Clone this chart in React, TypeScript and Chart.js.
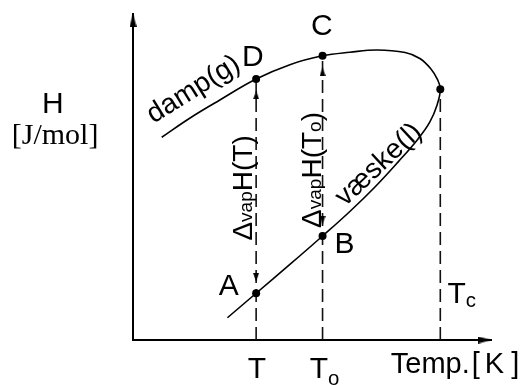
import { useEffect, useRef } from "react";
import { Chart, registerables } from "chart.js";

Chart.register(...registerables);

const SANS = "'Liberation Sans', Arial, Helvetica, sans-serif";
const SERIF = "'Liberation Serif', 'Times New Roman', serif";

// Marked temperatures (schematic units, the temperature axis runs 0–100)
const tempT = 34.3;
const tempTo = 52.8;
const tempTc = 85.6;

// Enthalpy of the vapour (D at T, C at To) and of the liquid (A at T, B at To)
const vapourAt = [79.8, 86.9];
const liquidAt = [14.3, 31.8];
const criticalH = 76.7;

// Vapour branch, from low temperature up to the critical point
const vapourTemp = [8.0, 15.9, 24.2, 34.3, 43.7, 52.8, 60.4, 68.0, 75.8, 79.9, 83.0, 84.8, 85.6];
const vapourEnth = [62.0, 67.9, 73.4, 79.8, 84.2, 86.9, 88.0, 88.7, 87.9, 86.1, 82.9, 79.7, 76.7];

// Liquid branch, from the critical point down to low temperature
const liquidTemp = [85.6, 84.7, 82.7, 79.4, 73.8, 67.4, 60.4, 52.8, 43.7, 34.3, 26.3];
const liquidEnth = [76.7, 71.9, 66.7, 61.5, 54.4, 46.8, 39.3, 31.8, 23.1, 14.3, 6.8];

// Gap between a dashed double arrow's tip and the dot it points at (enthalpy units)
const ARROW_GAP = 3.5;

type Run = { text: string; sub?: boolean; dx?: number };
type Label = {
  runs: Run[];
  x: number;
  y: number;
  size: number;
  rot?: number;
  align?: "left" | "center";
  base?: CanvasTextBaseline;
  family?: string;
  subShift?: number;
};

const labels: Label[] = [
  { runs: [{ text: "H" }], x: -22.3, y: 69.5, size: 30, align: "center" },
  { runs: [{ text: "[J/mol]" }], x: -21.7, y: 60.0, size: 30, align: "center", family: SERIF },
  { runs: [{ text: "D" }], x: 33.4, y: 83.8, size: 30, align: "center" },
  { runs: [{ text: "C" }], x: 52.6, y: 93.3, size: 30, align: "center" },
  { runs: [{ text: "A" }], x: 26.7, y: 13.8, size: 30, align: "center" },
  { runs: [{ text: "B" }], x: 58.9, y: 26.6, size: 30, align: "center" },
  { runs: [{ text: "T" }], x: tempT + 0.2, y: -11.6, size: 30, align: "center" },
  { runs: [{ text: "T" }, { text: "o", sub: true }], x: 49.2, y: -11.6, size: 30, subShift: 0.24 },
  { runs: [{ text: "T" }, { text: "c", sub: true }], x: 87.6, y: 11.4, size: 30, subShift: 0.14 },
  {
    runs: [{ text: "Temp." }, { text: "[", dx: 2 }, { text: "K", dx: 5 }, { text: "]", dx: 7 }],
    x: 71.8, y: -10.2, size: 29,
  },
  { runs: [{ text: "damp(g)" }], x: 16.9, y: 76.6, size: 28, rot: -32, align: "center", base: "middle" },
  { runs: [{ text: "væske(l)" }], x: 68.5, y: 53.6, size: 28, rot: -43, align: "center", base: "middle" },
  {
    runs: [{ text: "Δ" }, { text: "vap", sub: true }, { text: "H(T)" }],
    x: 33.1, y: 46.5, size: 28, rot: -90, align: "center", subShift: 0,
  },
  {
    runs: [{ text: "Δ" }, { text: "vap", sub: true }, { text: "H(T" }, { text: "o", sub: true }, { text: ")" }],
    x: 52.3, y: 52.0, size: 28, rot: -90, align: "center", subShift: 0,
  },
];

// Slender filled arrowhead pointing up, with its tip at the image centre
function arrowHead(len: number, width: number): HTMLCanvasElement {
  const c = document.createElement("canvas");
  c.width = width;
  c.height = len * 2;
  const g = c.getContext("2d")!;
  g.fillStyle = "#000";
  g.beginPath();
  g.moveTo(width / 2, len);
  g.lineTo(0, len * 2);
  g.lineTo(width, len * 2);
  g.closePath();
  g.fill();
  return c;
}

const labelPlugin = {
  id: "diagramLabels",
  afterDatasetsDraw(chart: Chart) {
    const { ctx } = chart;
    const xs = chart.scales.x;
    const ys = chart.scales.y;
    for (const l of labels) {
      const family = l.family ?? SANS;
      const subSize = l.size * 0.68;
      const shift = (l.subShift ?? 0.2) * l.size;
      const fontOf = (r: Run) => `${r.sub ? subSize : l.size}px ${family}`;
      ctx.save();
      ctx.translate(xs.getPixelForValue(l.x), ys.getPixelForValue(l.y));
      ctx.rotate(((l.rot ?? 0) * Math.PI) / 180);
      ctx.fillStyle = "#000";
      ctx.textAlign = "left";
      ctx.textBaseline = l.base ?? "alphabetic";
      let total = 0;
      for (const r of l.runs) {
        ctx.font = fontOf(r);
        total += (r.dx ?? 0) + ctx.measureText(r.text).width;
      }
      let cx = l.align === "center" ? -total / 2 : 0;
      for (const r of l.runs) {
        ctx.font = fontOf(r);
        cx += r.dx ?? 0;
        ctx.fillText(r.text, cx, r.sub ? shift : 0);
        cx += ctx.measureText(r.text).width;
      }
      ctx.restore();
    }
  },
};

export default function App() {
  const ref = useRef<HTMLCanvasElement>(null);

  useEffect(() => {
    const canvas = ref.current;
    if (!canvas) return;

    const axisArrow = arrowHead(14, 7);
    const smallArrow = arrowHead(9, 6);

    const curve = [
      ...vapourTemp.map((x, i) => ({ x, y: vapourEnth[i] })),
      ...liquidTemp.slice(1).map((x, i) => ({ x, y: liquidEnth[i + 1] })),
    ];

    const dashed = (x: number, top: number) => ({
      data: [
        { x, y: 0 },
        { x, y: top },
      ],
      showLine: true,
      borderColor: "#111",
      borderWidth: 1.6,
      borderDash: [13, 6],
      pointRadius: 0,
      clip: false as const,
    });

    const chart = new Chart(canvas, {
      type: "scatter",
      data: {
        datasets: [
          // coexistence curve: vapour branch joined to liquid branch at the critical point
          {
            data: curve,
            showLine: true,
            tension: 0.4,
            borderColor: "#000",
            borderWidth: 1.6,
            pointRadius: 0,
            clip: false,
          },
          // state points D, C, critical point, A, B
          {
            data: [
              { x: tempT, y: vapourAt[0] },
              { x: tempTo, y: vapourAt[1] },
              { x: tempTc, y: criticalH },
              { x: tempT, y: liquidAt[0] },
              { x: tempTo, y: liquidAt[1] },
            ],
            pointRadius: 4,
            pointBackgroundColor: "#000",
            pointBorderColor: "#000",
            pointBorderWidth: 0,
            clip: false,
          },
          // arrowheads of the vaporisation-enthalpy double arrows
          {
            data: [
              { x: tempT, y: vapourAt[0] - ARROW_GAP },
              { x: tempTo, y: vapourAt[1] - ARROW_GAP },
              { x: tempT, y: liquidAt[0] + ARROW_GAP },
              { x: tempTo, y: liquidAt[1] + ARROW_GAP },
            ],
            pointStyle: smallArrow,
            pointRotation: [0, 0, 180, 180],
            pointRadius: 1,
            clip: false,
          },
          dashed(tempT, vapourAt[0]),
          dashed(tempTo, vapourAt[1]),
          dashed(tempTc, criticalH),
          // axes
          {
            data: [
              { x: 0, y: 100 },
              { x: 0, y: 0 },
              { x: 100, y: 0 },
            ],
            showLine: true,
            borderColor: "#000",
            borderWidth: 2,
            pointRadius: 0,
            clip: false,
          },
          {
            data: [
              { x: 0, y: 100 },
              { x: 100, y: 0 },
            ],
            pointStyle: axisArrow,
            pointRotation: [0, 90],
            pointRadius: 1,
            clip: false,
          },
        ],
      },
      options: {
        responsive: false,
        animation: false,
        events: [],
        layout: { padding: { left: 133, right: 33, top: 13, bottom: 45 } },
        plugins: { legend: { display: false }, tooltip: { enabled: false } },
        scales: {
          x: { type: "linear", min: 0, max: 100, display: false },
          y: { type: "linear", min: 0, max: 100, display: false },
        },
      },
      plugins: [labelPlugin],
    });

    return () => chart.destroy();
  }, []);

  return (
    <div style={{ position: "fixed", left: 0, top: 0, width: 525, height: 385, background: "#fff" }}>
      <canvas ref={ref} width={525} height={385} />
    </div>
  );
}
